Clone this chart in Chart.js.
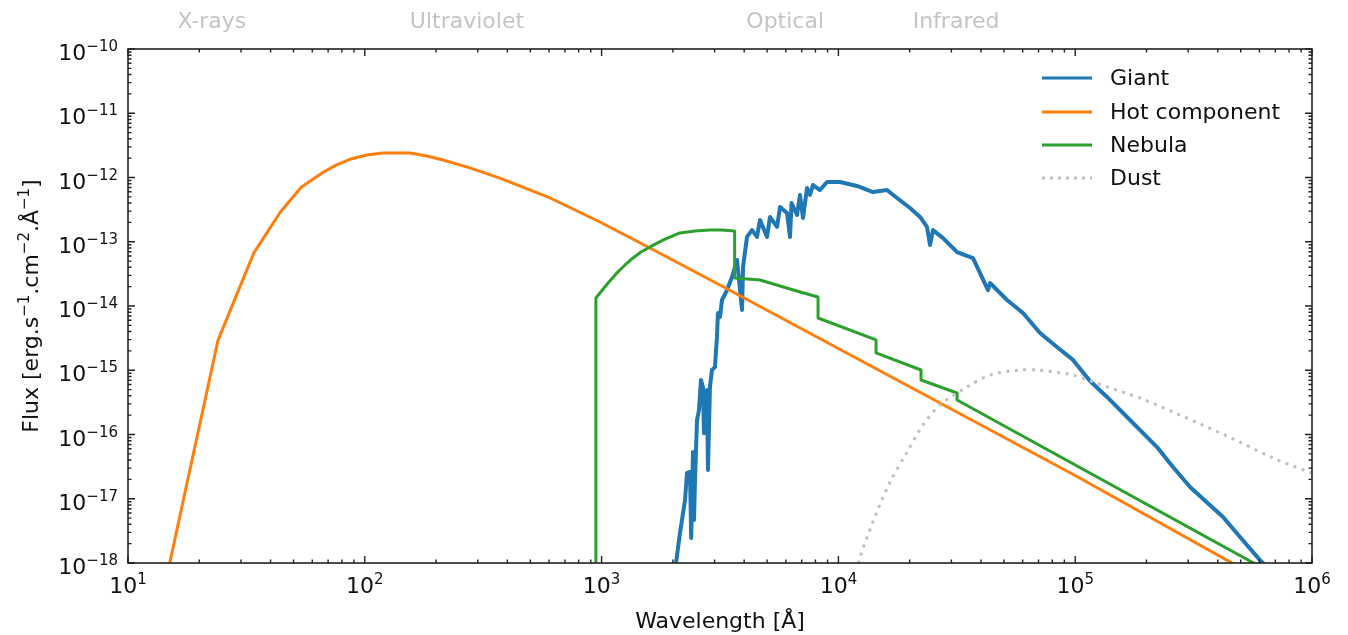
<!DOCTYPE html>
<html>
<head>
<meta charset="utf-8">
<title>SED components</title>
<script src="https://cdn.jsdelivr.net/npm/chart.js@4"></script>
<style>
  html, body { margin: 0; padding: 0; background: #fff; }
  #wrap { width: 1348px; height: 635px; position: relative; }
</style>
</head>
<body>
<div id="wrap"><canvas id="sed"></canvas></div>
<script>
// Wavelengths in Angstrom, fluxes in erg/s/cm2/A.
const giantWave = [2000, 2062, 2143, 2251, 2295, 2362, 2390, 2432, 2456, 2480,
  2529, 2578, 2629, 2680, 2706, 2786, 2813, 2868, 2924, 3011,
  3070, 3100, 3162, 3224, 3386, 3554, 3731, 3918, 3956, 4111,
  4316, 4531, 4665, 4995, 5142, 5505, 5668, 6068, 6247, 6340,
  6687, 6884, 7088, 7370, 7588, 7811, 8361, 8951, 10160, 11980,
  14000, 16040, 17680, 20070, 22120, 23670, 24370, 25090, 27650, 31680,
  37020, 42830, 43670, 51520, 60210, 71020, 83770, 97880, 115500, 136200,
  159200, 221500, 258800, 305400, 421000, 496600, 603000, 621000, 650000];
const giantFlux = [3e-19, 1.0e-18, 2.93e-18, 9.57e-18, 2.52e-17, 2.61e-17, 2.45e-18, 5.35e-17, 4.67e-18, 1.96e-17,
  1.68e-16, 2.40e-16, 7.05e-16, 5.48e-16, 1.05e-16, 4.93e-16, 2.80e-17, 5.48e-16, 1.01e-15, 1.12e-15,
  3.30e-15, 7.78e-15, 6.75e-15, 1.24e-14, 1.77e-14, 2.82e-14, 5.20e-14, 8.67e-15, 4.05e-14, 1.19e-13,
  1.52e-13, 1.19e-13, 2.18e-13, 1.19e-13, 2.43e-13, 1.70e-13, 3.48e-13, 2.80e-13, 1.19e-13, 4.01e-13,
  2.61e-13, 5.35e-13, 2.34e-13, 6.87e-13, 5.35e-13, 7.64e-13, 6.38e-13, 8.51e-13, 8.51e-13, 7.38e-13,
  5.94e-13, 6.38e-13, 4.80e-13, 3.35e-13, 2.43e-13, 1.70e-13, 8.89e-14, 1.52e-13, 1.14e-13, 6.92e-14,
  5.58e-14, 1.77e-14, 2.28e-14, 1.24e-14, 7.78e-15, 3.80e-15, 2.30e-15, 1.45e-15, 6.8e-16, 3.84e-16,
  2.16e-16, 6.38e-17, 3.12e-17, 1.52e-17, 5.20e-18, 2.54e-18, 1.11e-18, 1.0e-18, 6e-19];

const hotWave = [15, 24, 34, 44, 54, 67, 76, 87, 102, 119, 155, 183, 214, 278, 372, 606, 984, 1600, 3590,
  9950, 100000, 500000];
const hotFlux = [1.0e-18, 2.95e-15, 6.7e-14, 2.9e-13, 7.1e-13, 1.22e-12, 1.57e-12, 1.94e-12, 2.24e-12, 2.40e-12,
  2.40e-12, 2.16e-12, 1.87e-12, 1.41e-12, 9.8e-13, 4.8e-13, 2.03e-13, 8.0e-14, 1.65e-14, 2.2e-15, 2.3e-17, 8.4e-19];

const nebWave = [946, 946, 984, 1065, 1161, 1256, 1358, 1467, 1600, 1852, 2142, 2479, 2869, 3224, 3646, 3646,
  4667, 6890, 8204, 8204, 14420, 14420, 22330, 22330, 31700, 31700, 600000];
const nebFlux = [1e-19, 1.33e-14, 1.59e-14, 2.28e-14, 3.27e-14, 4.35e-14, 5.6e-14, 6.92e-14, 8.3e-14, 1.10e-13,
  1.37e-13, 1.47e-13, 1.52e-13, 1.52e-13, 1.47e-13, 2.73e-14, 2.54e-14, 1.65e-14, 1.38e-14, 6.5e-15,
  2.96e-15, 1.86e-15, 1.01e-15, 7.05e-16, 4.43e-16, 3.44e-16, 8.9e-19];

const dustWave = [11200, 12330, 13990, 16510, 19480, 22760, 26860, 34930, 43650, 58480, 70970, 97900,
  136200, 187800, 259000, 360000, 497000, 685000, 1000000];
const dustFlux = [3e-19, 1.2e-18, 4.35e-18, 1.82e-17, 5.3e-17, 1.41e-16, 2.88e-16, 5.5e-16, 8.4e-16, 1.01e-15,
  1.0e-15, 8.4e-16, 5.5e-16, 3.7e-16, 2.24e-16, 1.31e-16, 7.6e-17, 4.3e-17, 2.5e-17];

const seriesNames = ['Giant', 'Hot component', 'Nebula', 'Dust'];
const seriesColors = ['#1f77b4', '#ff7f0e', '#2ca02c', '#c0c0c0'];

const xTickExps = [1, 2, 3, 4, 5, 6];
const yTickExps = [-18, -17, -16, -15, -14, -13, -12, -11, -10];

const bandNames = ['X-rays', 'Ultraviolet', 'Optical', 'Infrared'];
const bandCenters = [22.6, 270, 5960, 31400];

const FONT = "'DejaVu Sans', sans-serif";

function pts(w, f) {
  return w.map((v, i) => ({ x: v, y: f[i] }));
}

function sciLabel(ctx, exp, x, y, align) {
  const base = '10';
  const sup = String(exp).replace('-', '\u2212');
  ctx.font = '22px ' + FONT;
  const wb = ctx.measureText(base).width;
  ctx.font = '15px ' + FONT;
  const ws = ctx.measureText(sup).width;
  const left = align === 'right' ? x - wb - ws : x - (wb + ws) / 2;
  ctx.textAlign = 'left';
  ctx.textBaseline = 'alphabetic';
  ctx.font = '22px ' + FONT;
  ctx.fillText(base, left, y);
  ctx.font = '15px ' + FONT;
  ctx.fillText(sup, left + wb, y - 9);
}

// draws runs of [text, isSuperscript] starting at x, returns the total width
function richText(ctx, parts, x, y, measureOnly) {
  let cx = x;
  parts.forEach(([t, sup]) => {
    ctx.font = (sup ? '15px ' : '22px ') + FONT;
    if (!measureOnly) ctx.fillText(t, cx, sup ? y - 9 : y);
    cx += ctx.measureText(t).width;
  });
  return cx - x;
}

const frame = {
  id: 'frame',
  afterDatasetsDraw(chart) {
    const { ctx, chartArea: a, scales: { x, y } } = chart;
    const MAJ = 7, MIN = 3.5;
    ctx.save();

    // inward ticks on all four sides
    ctx.strokeStyle = '#222';
    ctx.lineWidth = 1.4;
    ctx.beginPath();
    xTickExps.forEach((e, i) => {
      const px = x.getPixelForValue(10 ** e);
      ctx.moveTo(px, a.bottom); ctx.lineTo(px, a.bottom - MAJ);
      ctx.moveTo(px, a.top); ctx.lineTo(px, a.top + MAJ);
      if (i < xTickExps.length - 1) {
        for (let m = 2; m < 10; m++) {
          const p = x.getPixelForValue(m * 10 ** e);
          ctx.moveTo(p, a.bottom); ctx.lineTo(p, a.bottom - MIN);
          ctx.moveTo(p, a.top); ctx.lineTo(p, a.top + MIN);
        }
      }
    });
    yTickExps.forEach((e, i) => {
      const py = y.getPixelForValue(10 ** e);
      ctx.moveTo(a.left, py); ctx.lineTo(a.left + MAJ, py);
      ctx.moveTo(a.right, py); ctx.lineTo(a.right - MAJ, py);
      if (i < yTickExps.length - 1) {
        for (let m = 2; m < 10; m++) {
          const p = y.getPixelForValue(m * 10 ** e);
          ctx.moveTo(a.left, p); ctx.lineTo(a.left + MIN, p);
          ctx.moveTo(a.right, p); ctx.lineTo(a.right - MIN, p);
        }
      }
    });
    ctx.stroke();

    // spines
    ctx.lineWidth = 1.6;
    ctx.strokeRect(a.left, a.top, a.right - a.left, a.bottom - a.top);

    // tick labels
    ctx.fillStyle = '#111';
    xTickExps.forEach((e) => sciLabel(ctx, e, x.getPixelForValue(10 ** e), a.bottom + 30, 'center'));
    yTickExps.forEach((e) => sciLabel(ctx, e, a.left - 10, y.getPixelForValue(10 ** e) + 11, 'right'));

    // axis titles
    ctx.font = '22px ' + FONT;
    ctx.textAlign = 'center';
    ctx.textBaseline = 'alphabetic';
    ctx.fillText('Wavelength [\u00c5]', (a.left + a.right) / 2, 628);

    const yTitle = [['Flux [erg.s', false], ['\u22121', true], ['.cm', false], ['\u22122', true],
      ['.\u00c5', false], ['\u22121', true], [']', false]];
    ctx.save();
    ctx.translate(38, (a.top + a.bottom) / 2);
    ctx.rotate(-Math.PI / 2);
    ctx.textAlign = 'left';
    const w = richText(ctx, yTitle, 0, 0, true);
    richText(ctx, yTitle, -w / 2, 0, false);
    ctx.restore();

    // band names above the axes
    ctx.fillStyle = '#c4c4c4';
    ctx.font = '22px ' + FONT;
    ctx.textAlign = 'center';
    ctx.textBaseline = 'middle';
    bandNames.forEach((n, i) => ctx.fillText(n, x.getPixelForValue(bandCenters[i]), 22));

    // legend
    const legY = [78, 112, 145, 178];
    seriesNames.forEach((n, i) => {
      ctx.strokeStyle = seriesColors[i];
      ctx.lineWidth = 3;
      ctx.setLineDash(i === 3 ? [3, 5] : []);
      ctx.beginPath();
      ctx.moveTo(1042, legY[i]);
      ctx.lineTo(1092, legY[i]);
      ctx.stroke();
      ctx.setLineDash([]);
      ctx.fillStyle = '#111';
      ctx.textAlign = 'left';
      ctx.textBaseline = 'middle';
      ctx.font = '22px ' + FONT;
      ctx.fillText(n, 1110, legY[i] + 1);
    });
    ctx.restore();
  }
};

new Chart(document.getElementById('sed'), {
  type: 'line',
  data: {
    datasets: [
      { label: seriesNames[0], data: pts(giantWave, giantFlux), borderColor: seriesColors[0], borderWidth: 4, order: 4 },
      { label: seriesNames[1], data: pts(hotWave, hotFlux), borderColor: seriesColors[1], borderWidth: 3, order: 3 },
      { label: seriesNames[2], data: pts(nebWave, nebFlux), borderColor: seriesColors[2], borderWidth: 3, order: 2 },
      { label: seriesNames[3], data: pts(dustWave, dustFlux), borderColor: seriesColors[3], borderWidth: 3,
        borderDash: [3, 5.5], tension: 0.3, order: 1 },
    ],
  },
  options: {
    responsive: true,
    maintainAspectRatio: false,
    animation: false,
    layout: { padding: { left: 128, right: 36, top: 49, bottom: 72 } },
    elements: { point: { radius: 0 }, line: { tension: 0, fill: false, borderCapStyle: 'butt', borderJoinStyle: 'round' } },
    plugins: { legend: { display: false }, tooltip: { enabled: false } },
    scales: {
      x: { type: 'logarithmic', min: 10, max: 1e6, display: false },
      y: { type: 'logarithmic', min: 1e-18, max: 1e-10, display: false },
    },
  },
  plugins: [frame],
});
</script>
</body>
</html>
